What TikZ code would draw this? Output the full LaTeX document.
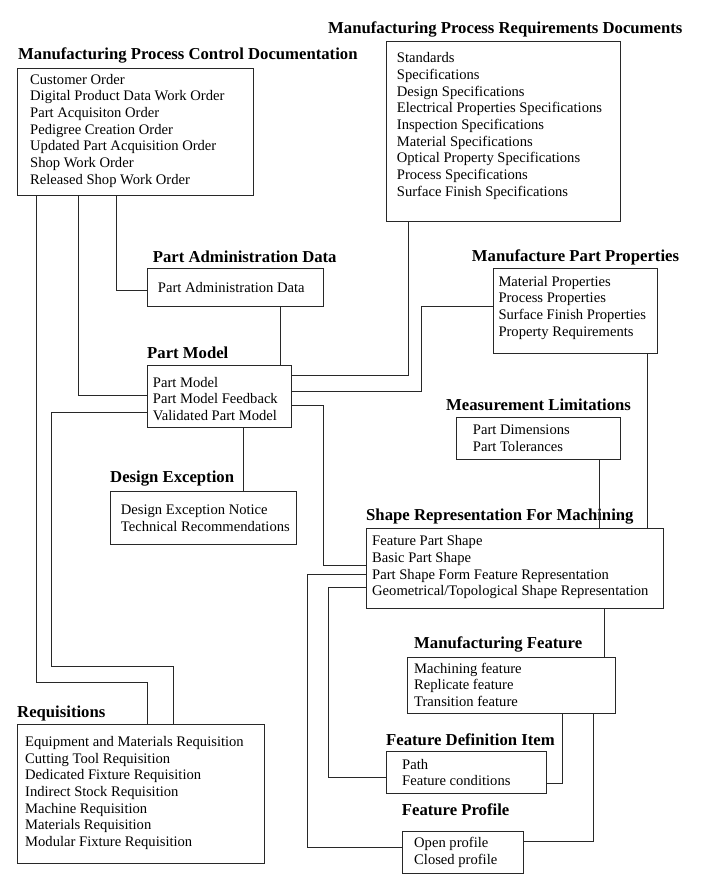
\documentclass[tikz,border=0pt]{standalone}
\usepackage{fontspec}
\setmainfont{Liberation Serif}
\usetikzlibrary{positioning,calc}
\definecolor{LineGray}{RGB}{40,40,40}
\tikzset{
  boxnode/.style={draw=LineGray,line width=0.7pt,anchor=north west,inner sep=0pt},
  listtext/.style={anchor=west,inner sep=0pt,align=left,font=\fontsize{14.6}{16.7}\selectfont},
  titletext/.style={anchor=west,inner sep=0pt,font=\fontsize{16.7}{18}\selectfont\bfseries},
  link/.style={draw=LineGray,line width=0.7pt}
}

\begin{document}
\begin{tikzpicture}[x=1pt,y=-1pt]
\useasboundingbox (0,0) rectangle (709,894);
\node[boxnode, minimum width=236pt, minimum height=127pt] (mpcd) at (17,68) {};
\node[titletext] (mpcdttl) at (18,55) {Manufacturing Process Control Documentation};
\node[listtext] (mpcdtxt) at (30,130.7) {Customer Order\\Digital Product Data Work Order\\Part Acquisiton Order\\Pedigree Creation Order\\Updated Part Acquisition Order\\Shop Work Order\\Released Shop Work Order};
\node[boxnode, minimum width=234pt, minimum height=180pt] (mprd) at (386,41) {};
\node[titletext] (mprdttl) at (328,29) {Manufacturing Process Requirements Documents};
\node[listtext] (mprdtxt) at (396.7,126) {Standards\\Specifications\\Design Specifications\\Electrical Properties Specifications\\Inspection Specifications\\Material Specifications\\Optical Property Specifications\\Process Specifications\\Surface Finish Specifications};
\node[boxnode, minimum width=176pt, minimum height=38pt] (pad) at (147,268) {};
\node[titletext] (padttl) at (152.7,257) {Part Administration Data};
\node[listtext] (padtxt) at (157.7,287.3) {Part Administration Data};
\node[boxnode, minimum width=144pt, minimum height=62pt] (pm) at (147,365) {};
\node[titletext] (pmttl) at (147,353) {Part Model};
\node[listtext] (pmtxt) at (152.7,398.8) {Part Model\\Part Model Feedback\\Validated Part Model};
\node[boxnode, minimum width=164pt, minimum height=85pt] (mpp) at (493,268) {};
\node[titletext] (mppttl) at (471.7,257) {Manufacture Part Properties};
\node[listtext] (mpptxt) at (498.3,307.7) {Material Properties\\Process Properties\\Surface Finish Properties\\Property Requirements};
\node[boxnode, minimum width=186pt, minimum height=53pt] (de) at (110,491) {};
\node[titletext] (dettl) at (110,479) {Design Exception};
\node[listtext] (detxt) at (120.7,518) {Design Exception Notice\\Technical Recommendations};
\node[boxnode, minimum width=164pt, minimum height=42pt] (ml) at (456,417) {};
\node[titletext] (mlttl) at (446,405) {Measurement Limitations};
\node[listtext] (mltxt) at (472.7,438) {Part Dimensions\\Part Tolerances};
\node[boxnode, minimum width=297pt, minimum height=80pt] (srfm) at (366,528) {};
\node[titletext] (srfmttl) at (366,516.7) {Shape Representation For Machining};
\node[listtext] (srfmtxt) at (372,567.2) {Feature Part Shape\\Basic Part Shape\\Part Shape Form Feature Representation\\Geometrical/Topological Shape Representation};
\node[boxnode, minimum width=208pt, minimum height=56pt] (mf) at (407,657) {};
\node[titletext] (mfttl) at (414,644) {Manufacturing Feature};
\node[listtext] (mftxt) at (414,684.7) {Machining feature\\Replicate feature\\Transition feature};
\node[boxnode, minimum width=160pt, minimum height=42pt] (fdi) at (386,751) {};
\node[titletext] (fdittl) at (386,739.3) {Feature Definition Item};
\node[listtext] (fditxt) at (402,772.5) {Path\\Feature conditions};
\node[boxnode, minimum width=121pt, minimum height=42pt] (fp) at (402,831) {};
\node[titletext] (fpttl) at (401.7,809.3) {Feature Profile};
\node[listtext] (fptxt) at (414,852.5) {Open profile\\Closed profile};
\node[boxnode, minimum width=247pt, minimum height=139pt] (req) at (17,724) {};
\node[titletext] (reqttl) at (17,713.3) {Requisitions};
\node[listtext] (reqtxt) at (25,793) {Equipment and Materials Requisition\\Cutting Tool Requisition\\Dedicated Fixture Requisition\\Indirect Stock Requisition\\Machine Requisition\\Materials Requisition\\Modular Fixture Requisition};
\draw[link] ([xshift=19pt]mpcd.south west) |- (147,682) -- ([xshift=130pt]req.north west);
\draw[link] ([xshift=61pt]mpcd.south west) |- ([yshift=-30pt]pm.north west);
\draw[link] ([xshift=99pt]mpcd.south west) |- ([yshift=-22pt]pad.north west);
\draw[link] ([xshift=133pt]pad.south west) -- ([xshift=133pt]pad.south west |- pm.north);
\draw[link] ([yshift=-10pt]pm.north east) -| ([xshift=22pt]mprd.south west);
\draw[link] ([yshift=-26pt]pm.north east) -- (421,391) |- ([yshift=-38pt]mpp.north west);
\draw[link] ([yshift=-40pt]pm.north east) -- (323,405) |- ([yshift=-37pt]srfm.north west);
\draw[link] ([yshift=-47pt]pm.north west) -| (51,666) -| ([xshift=156pt]req.north west);
\draw[link] ([xshift=96pt]pm.south west) -- ([xshift=96pt]pm.south west |- de.north);
\draw[link] ([xshift=154pt]mpp.south west) -- ([xshift=154pt]mpp.south west |- srfm.north);
\draw[link] ([xshift=143pt]ml.south west) -- ([xshift=143pt]ml.south west |- srfm.north);
\draw[link] ([yshift=-46pt]srfm.north west) -| (307,847) -- ([yshift=-16pt]fp.north west);
\draw[link] ([yshift=-59pt]srfm.north west) -| (328,777) -- ([yshift=-26pt]fdi.north west);
\draw[link] ([xshift=238pt]srfm.south west) -- ([xshift=238pt]srfm.south west |- mf.north);
\draw[link] ([xshift=155pt]mf.south west) |- ([yshift=-32pt]fdi.north east);
\draw[link] ([xshift=186pt]mf.south west) |- ([yshift=-10pt]fp.north east);
\end{tikzpicture}
\end{document}
